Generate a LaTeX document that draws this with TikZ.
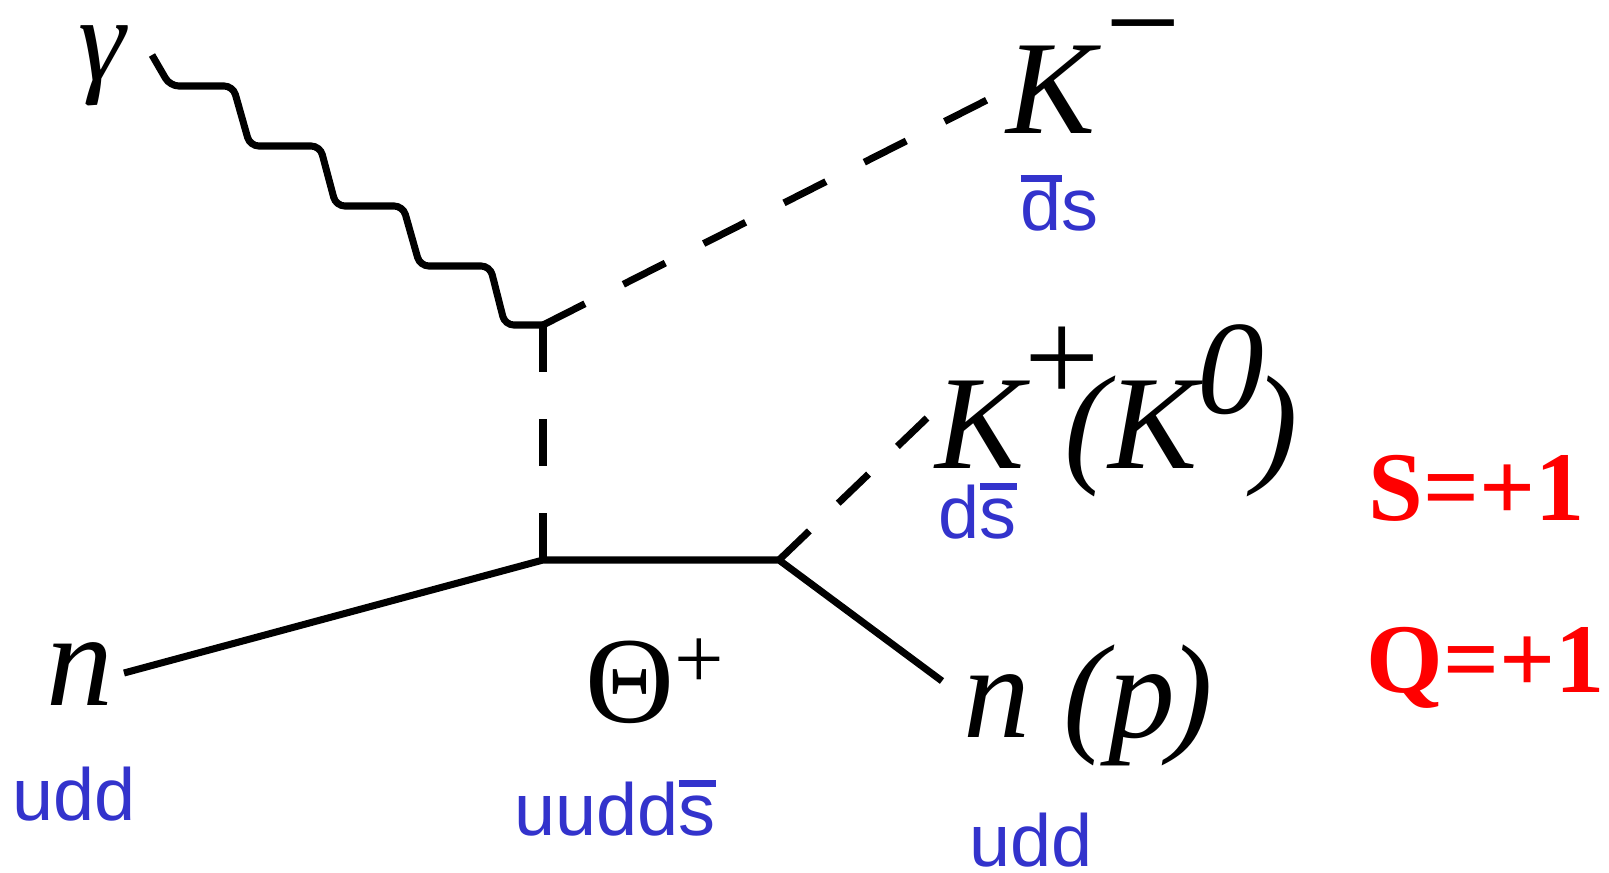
\documentclass[tikz,border=0pt]{standalone}
\usepackage{fontspec}
\setmainfont{Liberation Serif}
\newfontfamily\quarkfont{Liberation Sans}
\usepackage{tikz}
\definecolor{quarkblue}{RGB}{51,51,204}
\newcommand{\qbar}[1]{\setbox0=\hbox{#1}\rlap{\rule[0.65em]{\wd0}{0.1em}}\box0}

\begin{document}
\begin{tikzpicture}[x=0.01cm, y=-0.01cm,
  lbl/.style={inner sep=0pt, font=\fontsize{38pt}{38pt}\selectfont\itshape},
  qrk/.style={inner sep=0pt, text=quarkblue, font=\fontsize{21pt}{21pt}\selectfont\quarkfont},
  cons/.style={inner sep=0pt, text=red, font=\fontsize{28pt}{28pt}\selectfont\bfseries},
  fermion/.style={line width=2pt},
  scalar/.style={line width=2pt, dash pattern=#1},
  scalar/.default={on 4.7mm off 4.3mm},
  photon/.style={line width=2pt, rounded corners=2.5pt}]
\useasboundingbox (0,0) rectangle (1609,872);
\coordinate (vtop) at (543,325);
\coordinate (vbot) at (543,560);
\coordinate (vout) at (779,560);
\coordinate (gin) at (152,55);
\coordinate (nin) at (124,673);
\coordinate (kmend) at (987,100);
\coordinate (kpend) at (927,418);
\coordinate (npend) at (942,681);
\node[lbl, anchor=base, text height=0.5em, font=\fontsize{34pt}{34pt}\selectfont\itshape] (gam) at (102,80) {γ};
\node[lbl, anchor=base west, text height=0.7em] (km) at (1006,133) {K\kern0.07em\raisebox{0.49em}{\upshape −}};
\node[lbl, anchor=base west] (kp) at (935,468) {K\raisebox{0.49em}{\upshape +}\kern-0.27em(K\raisebox{0.41em}{0}\kern-0.08em)};
\node[lbl, anchor=base] (nl) at (80,705) {n};
\node[lbl, anchor=base west] (np) at (963,737) {n (p\kern-0.05em)};
\node[anchor=base west, inner sep=0pt, font=\fontsize{35pt}{35pt}\selectfont] (th) at (585,722)
  {Θ\raisebox{0.27em}{\fontsize{25pt}{25pt}\selectfont +}};
\node[qrk, anchor=base] (qnl) at (74,820) {udd};
\node[qrk, anchor=base, text depth=0pt] (qnp) at (1031,866) {udd};
\node[qrk, anchor=base west] (qth) at (514,835) {uudd\qbar{s}};
\node[qrk, anchor=base west] (qkm) at (1020,230) {\qbar{d}s};
\node[qrk, anchor=base west] (qkp) at (938,538) {d\qbar{s}};
\node[cons, anchor=base west] (sc) at (1368,520) {S=+1};
\node[cons, anchor=base west] (qc) at (1366,692) {Q=+1};
\draw[photon] (gin) -- (170,86) -- (233,86) -- (250,146) -- (320,146) -- (336,206)
  -- (403,206) -- (420,266) -- (490,266) -- (505,325) -- (vtop);
\draw[scalar] (vtop) -- (kmend);
\draw[scalar={on 4.7mm off 4.7mm}] (vtop) -- (vbot);
\draw[scalar={on 4.2mm off 4mm}] (vout) -- (kpend);
\draw[fermion] (nin) -- (vbot) -- (vout) -- (npend);
\end{tikzpicture}
\end{document}
